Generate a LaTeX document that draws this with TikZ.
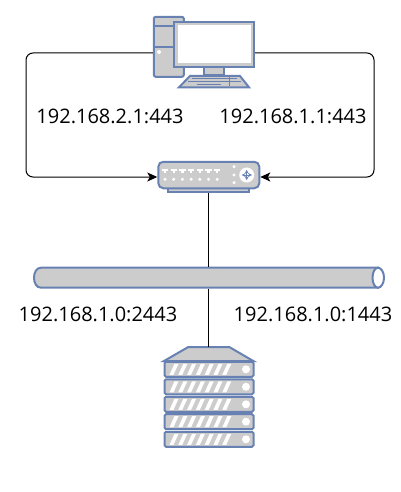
\documentclass[tikz,border=0pt]{standalone}
\usepackage{fontspec}
\setmainfont{Open Sans}
\usepackage{tikz}
\usetikzlibrary{arrows.meta, positioning, calc}

\definecolor{iconblue}{HTML}{6881B3}
\definecolor{icongrey}{HTML}{CCCCCC}

\begin{document}
\begin{tikzpicture}[
    x=1pt, y=-1pt,
    part/.style={rectangle, draw=iconblue, fill=icongrey, line width=2pt, inner sep=0pt},
    unit/.style={part, rounded corners=1.5pt, minimum width=89pt, minimum height=15pt},
    detail/.style={fill=white, draw=none},
    keyline/.style={draw=iconblue, line width=1pt},
    addr/.style={font=\fontsize{20}{24}\selectfont, inner sep=0pt},
    link/.style={black, line width=1pt},
    arrow/.style={link, -{Stealth[length=10pt,width=9pt,inset=2.5pt]}, rounded corners=7pt}
]
\useasboundingbox (0,0) rectangle (401,492);

% Computer
\node (tower) [part, rounded corners=2pt, minimum width=30pt, minimum height=60pt] at (168.8,46.8) {};
\draw [iconblue, line width=2pt] (tower.west |- 0,26.5) -- (tower.east |- 0,26.5);
\draw [iconblue, line width=2pt] (tower.west |- 0,46.7) -- (tower.east |- 0,46.7);
\fill [detail] (159,52) circle (2pt);
\node (stand) [part, minimum width=20pt, minimum height=9pt] at (214,71) {};
\node (monitor) [part, minimum width=80pt, minimum height=44.5pt] at (214,44.5) {};
\fill [detail] (177.5,25.5) rectangle (250.5,63.5);
\draw [part] (190,76) -- (240,76) -- (249,87.3) -- (179,87.3) -- cycle;
\foreach \y/\a/\b in {79/192/237, 82/188/241, 85/197/221} {
    \draw [keyline] (\a,\y) -- (\b,\y);
}
\draw [keyline] (229,77) -- (229,86);

% Switch
\node (basebar) [part, minimum width=81pt, minimum height=6pt] at (208.8,189.3) {};
\node (switch) [part, rounded corners=5pt, minimum width=101pt, minimum height=26.5pt] at (208.8,175) {};
\foreach \i in {0,...,6} {
    \fill [detail] ({165+8.7*\i-3.2},169) rectangle ({165+8.7*\i+3.2},171.2);
    \fill [detail] ({165+8.7*\i-1.2},171) rectangle ({165+8.7*\i+1.2},173);
    \fill [detail] ({165+8.7*\i},179.3) circle (1.7pt);
}
\foreach \y in {166.7,175,182.7} {
    \fill [detail] (234,\y) circle (1.7pt);
}
\fill [detail] (246.7,175) circle (7.5pt);
\draw [iconblue, line width=0.8pt, <->, >=stealth] (241.5,175) -- (252,175);
\draw [iconblue, line width=0.8pt, <->, >=stealth] (246.7,169.8) -- (246.7,180.2);

% Bus
\node (bus) [part, draw=none, fill=none, minimum width=350pt, minimum height=20pt] at (209,277.7) {};
\draw [part] (41,267.7) -- (378,267.7) -- (378,287.7) -- (41,287.7) .. controls (36.5,287.7) and (34,283) .. (34,277.7) .. controls (34,272.5) and (36.5,267.7) .. (41,267.7) -- cycle;
\draw [part, fill=white] (378,267.7) .. controls (381,267.7) and (384,272) .. (384,277.7) .. controls (384,283.5) and (381,287.7) .. (378,287.7) .. controls (375,287.7) and (372.5,283.5) .. (372.5,277.7) .. controls (372.5,272) and (375,267.7) .. (378,267.7) -- cycle;

% Server
\draw [part] (164,361) -- (188.3,347) -- (229.3,347) -- (253.3,361) -- cycle;
\coordinate (roof) at (209,347);
\foreach \n/\y in {1/369.3, 2/386.8, 3/404.3, 4/421.7, 5/439.3} {
    \node (unit\n) [unit] at (209,\y) {};
    \foreach \i in {0,...,6} {
        \fill [detail] ({169.5+8.8*\i},\y+5.5) -- ({173.5+8.8*\i},\y+5.5) -- ({178.5+8.8*\i},\y-5.5) -- ({174.5+8.8*\i},\y-5.5) -- cycle;
    }
    \fill [detail] (246,\y) circle (4pt);
}

% Arrows
\draw [arrow] (tower.west |- 0,53) -- (26,53) -- (26,177) -- (switch.west |- 0,177);
\draw [arrow] (monitor.east |- 0,53) -- (374,53) -- (374,177) -- (switch.east |- 0,177);
\draw [link] (basebar.south) -- (basebar.south |- bus.north);
\draw [link] (bus.south -| basebar.south) -- (roof -| basebar.south);

% Labels
\node (lefttop) [addr] at (110,116) {192.168.2.1:443};
\node (righttop) [addr] at (293,116) {192.168.1.1:443};
\node (leftbus) [addr] at (98,314) {192.168.1.0:2443};
\node (rightbus) [addr] at (313,314) {192.168.1.0:1443};

\end{tikzpicture}
\end{document}
